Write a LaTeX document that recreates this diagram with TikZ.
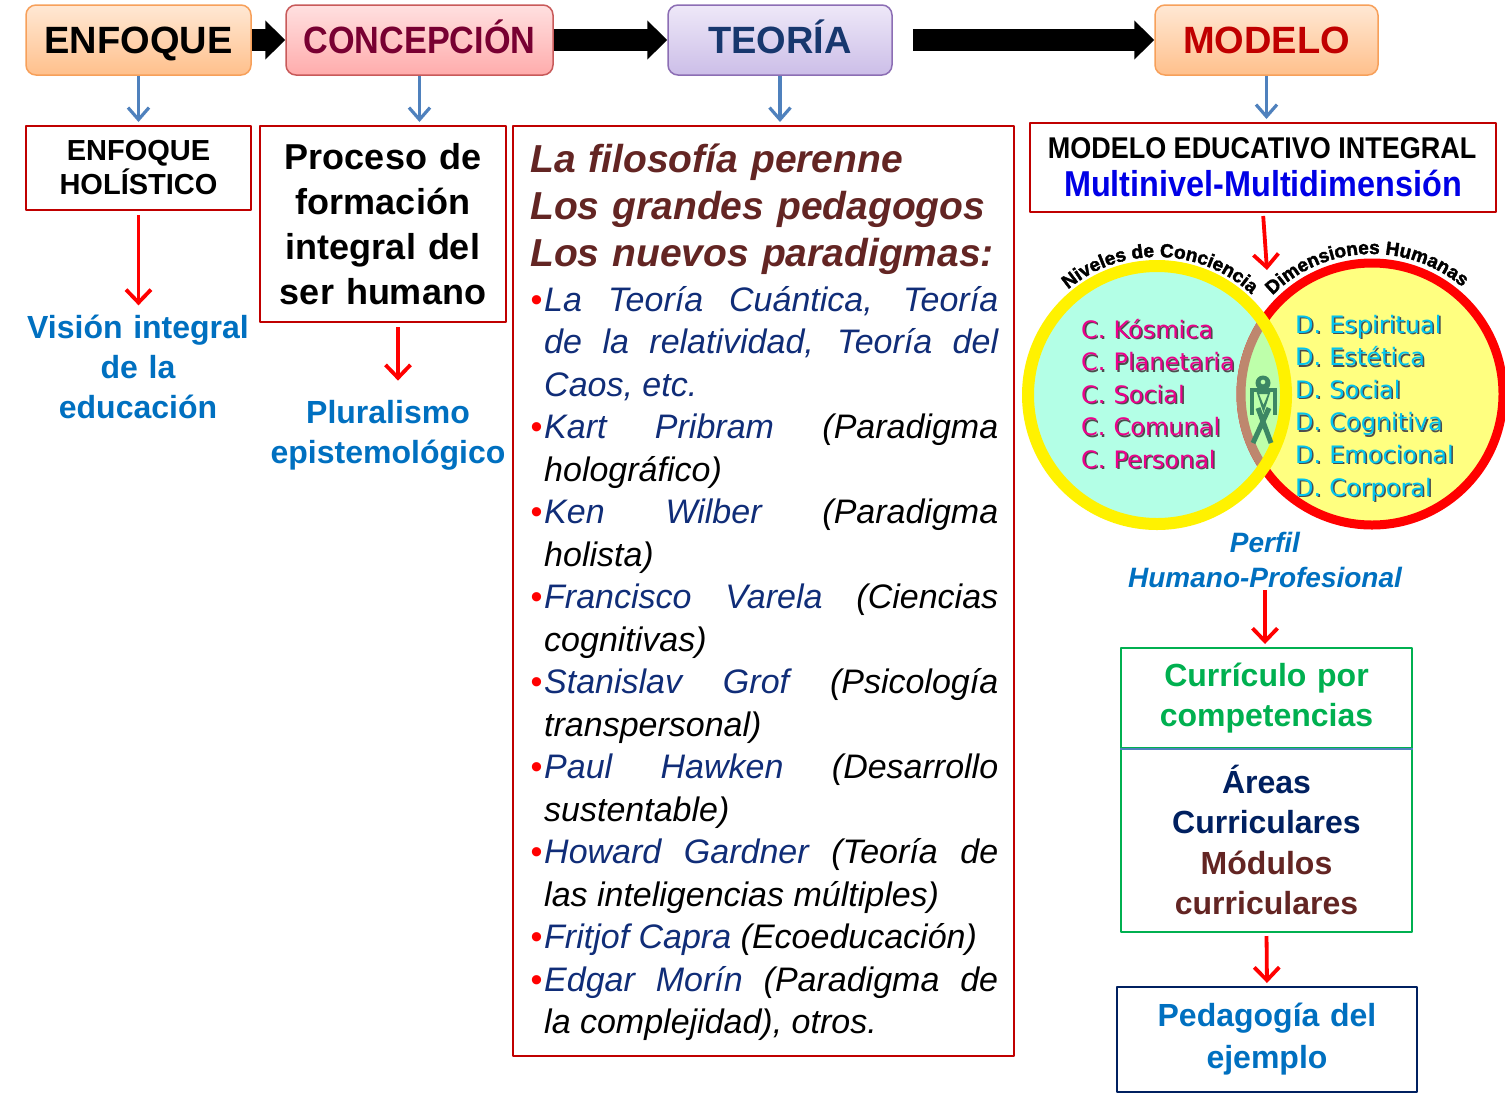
\documentclass[tikz,border=0pt]{standalone}
\usepackage{fontspec}
\setmainfont{Liberation Sans}
\newfontfamily\narrowfont[FakeStretch=0.9]{Liberation Sans}
\newfontfamily\heavyfont[FakeBold=2]{Liberation Sans}
\newfontfamily\comicfont{DejaVu Sans}
\usetikzlibrary{arrows.meta,decorations.text,positioning}

\definecolor{boxred}{RGB}{192,0,0}
\definecolor{arrowblue}{RGB}{79,129,189}
\definecolor{enfoquetop}{RGB}{255,232,212}
\definecolor{enfoquebot}{RGB}{255,192,140}
\definecolor{enfoqueedge}{RGB}{247,160,90}
\definecolor{conctop}{RGB}{255,224,224}
\definecolor{concbot}{RGB}{255,172,172}
\definecolor{concedge}{RGB}{200,90,90}
\definecolor{teotop}{RGB}{238,232,248}
\definecolor{teobot}{RGB}{204,190,232}
\definecolor{teoedge}{RGB}{140,110,180}
\definecolor{conctext}{RGB}{120,0,50}
\definecolor{teotext}{RGB}{23,55,110}
\definecolor{brownink}{RGB}{99,37,35}
\definecolor{nameblue}{RGB}{16,45,120}
\definecolor{visionblue}{RGB}{0,112,192}
\definecolor{multiblue}{RGB}{0,0,230}
\definecolor{curgreen}{RGB}{0,176,80}
\definecolor{navyink}{RGB}{0,32,96}
\definecolor{aquafill}{RGB}{179,255,230}
\definecolor{softyellow}{RGB}{255,255,128}
\definecolor{overlapgreen}{RGB}{190,255,170}
\definecolor{ringtan}{RGB}{190,135,110}
\definecolor{figgreen}{RGB}{60,135,100}
\definecolor{cyanink}{RGB}{0,196,240}

\newcommand{\autor}[1]{\textcolor{nameblue}{#1}}
\newcommand{\punto}{\leavevmode\llap{\textcolor{red}{\textbullet}\hspace{2pt}}}
\newcommand{\sombra}[1]{\leavevmode\rlap{\hspace{1.5pt}\raisebox{-1.5pt}{\textcolor{black!70}{#1}}}#1}

\tikzset{
  topbox/.style={draw, line width=1.5pt, rounded corners=10pt, inner sep=0pt,
    minimum height=70pt, text height=27pt, text depth=0pt,
    font=\bfseries\fontsize{38}{38}\selectfont},
  redbox/.style={draw=boxred, line width=2pt, inner sep=0pt},
  bluearrow/.style={draw=arrowblue, line width=3.2pt,
    -{Straight Barb[length=12pt,width=21pt]}},
  redarrow/.style={draw=red, line width=3.8pt,
    -{Straight Barb[length=13pt,width=25pt]}},
  bigarrow/.style={line width=22pt, -{Triangle[length=20pt,width=38pt]}},
  venntext/.style={anchor=base west, inner sep=0pt, text width=175pt, align=left,
    font=\comicfont\fontsize{24}{32.6}\selectfont},
  arclabel/.style={decorate, decoration={text along path, text align=center,
    text={|\heavyfont\bfseries\fontsize{19}{19}\selectfont|#1}}},
}

\begin{document}
\begin{tikzpicture}[x=1pt, y=-1pt, line join=round, >=Stealth]
	\path[use as bounding box, fill=white] (0,0) rectangle (1505,1112);
	% cabecera
	\node[topbox, draw=enfoqueedge, top color=enfoquetop, bottom color=enfoquebot,
	  minimum width=225pt] (enfoque) at (138.5,40) {ENFOQUE};
	\node[topbox, draw=concedge, top color=conctop, bottom color=concbot,
	  minimum width=267pt, text=conctext,
	  font=\narrowfont\bfseries\fontsize{38}{38}\selectfont] (concepcion) at (419.5,40) {CONCEPCIÓN};
	\node[topbox, draw=teoedge, top color=teotop, bottom color=teobot,
	  minimum width=224pt, text=teotext] (teoria) at (780,40) {TEORÍA};
	\node[topbox, draw=enfoqueedge, top color=enfoquetop, bottom color=enfoquebot,
	  minimum width=223pt, text=boxred] (modelo) at (1266.5,40) {MODELO};
	\draw[bigarrow] (enfoque) -- (concepcion);
	\draw[bigarrow] (concepcion) -- (teoria);
	\draw[bigarrow] ([xshift=20pt]teoria.east) -- (modelo);

	% cajas
	\node[redbox, minimum width=225pt, minimum height=84pt, text width=220pt, align=center,
	  font=\bfseries\fontsize{29}{34}\selectfont] (holistico) at (138.5,168) {ENFOQUE\\HOLÍSTICO};
	\node[redbox, minimum width=246pt, minimum height=196pt, text width=240pt, align=center,
	  font=\bfseries\fontsize{36}{45}\selectfont] (proceso) at (383,224)
	  {Proceso de\\formación\\integral del\\ser humano};
	\node[redbox, minimum width=501pt, minimum height=930pt] (teoriabox) at (763.5,591) {};
	\node[redbox, minimum width=466pt, minimum height=89pt] (educativo) at (1263,167.5) {};
	\node[anchor=base, inner sep=0pt, font=\narrowfont\bfseries\fontsize{30}{30}\selectfont]
	  (integral) at (1262,158) {MODELO EDUCATIVO INTEGRAL};
	\node[anchor=base, inner sep=0pt, text=multiblue,
	  font=\narrowfont\bfseries\fontsize{36}{36}\selectfont]
	  (multinivel) at (1263,196) {Multinivel-Multidimensión};
	\foreach \a/\b in {enfoque/holistico, concepcion/proceso, teoria/teoriabox, modelo/educativo}
	  \draw[bluearrow, shorten >=3pt] (\a.south) -- (\a.south |- \b.north);

	% resultados
	\node[anchor=base, inner sep=0pt, text width=250pt, align=center, text=visionblue,
	  font=\bfseries\fontsize{32}{40}\selectfont] (vision) at (138,338)
	  {Visión~integral\\de la\\educación};
	\node[anchor=base, inner sep=0pt, text width=250pt, align=center, text=visionblue,
	  font=\bfseries\fontsize{32}{40}\selectfont] (pluralismo) at (388,423)
	  {Pluralismo\\epistemológico};
	\draw[redarrow, shorten <=4pt, shorten >=9pt] (holistico.south) -- (holistico.south |- vision.north);
	\draw[redarrow, shorten <=4pt, shorten >=19pt] ([xshift=15pt]proceso.south)
	  -- ([xshift=15pt]proceso.south |- pluralismo.north);

	% teorias
	\node[anchor=base west, inner sep=0pt, text width=480pt, align=left, text=brownink,
	  font=\bfseries\itshape\fontsize{39}{47}\selectfont] (filosofia) at (530,172)
	  {La filosofía perenne\\Los grandes pedagogos\\Los nuevos paradigmas:};
	\node[anchor=base west, inner sep=0pt, text width=454pt, align=justify,
	  font=\itshape\fontsize{34}{42.5}\selectfont] (paradigmas) at (544,311)
	  {\tolerance=10000 \hbadness=10000 \hyphenpenalty=10000
	  \punto\autor{La Teoría Cuántica, Teoría\linebreak de la relatividad, Teoría del\linebreak Caos, etc.}\par
	  \punto\autor{Kart Pribram} (Paradigma\linebreak holográfico)\par
	  \punto\autor{Ken Wilber} (Paradigma\linebreak holista)\par
	  \punto\autor{Francisco Varela} (Ciencias\linebreak cognitivas)\par
	  \punto\autor{Stanislav Grof} (Psicología\linebreak transpersonal)\par
	  \punto\autor{Paul Hawken} (Desarrollo\linebreak sustentable)\par
	  \punto\autor{Howard Gardner} (Teoría de\linebreak las inteligencias múltiples)\par
	  \punto\autor{Fritjof Capra} (Ecoeducación)\par
	  \punto\autor{Edgar Morín} (Paradigma de\linebreak la complejidad), otros.\par};

	% diagrama de Venn
	\path (1157,395) coordinate (cleft)
	  (1372,394) coordinate (cright)
	  (1267,270) coordinate (venntop);
	\fill[aquafill] (cleft) circle (129);
	\fill[softyellow] (cright) circle (131);
	\draw[red, line width=9pt] (cright) circle (131);
	\begin{scope}
	  \clip (cleft) circle (129);
	  \fill[overlapgreen] (cright) circle (131);
	  \draw[ringtan, line width=9pt] (cright) circle (131);
	\end{scope}
	\draw[yellow, line width=12pt] (cleft) circle (129);
	% figura humana
	\begin{scope}[figgreen]
	  \fill[even odd rule] (1263,383) circle (7.5) (1263,382) circle (2.5);
	  \fill (1250,388) rectangle (1277,392);
	  \fill (1250,388) rectangle (1254,415);
	  \fill (1273,388) rectangle (1277,415);
	  \fill[even odd rule] (1256,390) -- (1271,390) -- (1263.5,413) -- cycle
	    (1259,394) -- (1268,394) -- (1263.5,405) -- cycle;
	  \draw[line width=5pt] (1258,408) -- (1271,443) (1269,408) -- (1253,443);
	\end{scope}
	\path[arclabel={Niveles de Conciencia}]
	  (cleft) ++(-132:138) arc[start angle=-132, end angle=-45, radius=138];
	\path[arclabel={Dimensiones Humanas}]
	  (cright) ++(-137:140) arc[start angle=-137, end angle=-48, radius=140];
	\node[venntext, text=magenta] (conciencia) at (1081,338)
	  {\sombra{C. Kósmica}\\\sombra{C. Planetaria}\\\sombra{C. Social}\\
	   \sombra{C. Comunal}\\\sombra{C. Personal}};
	\node[venntext, text=cyanink] (dimensiones) at (1295,333)
	  {\sombra{D. Espiritual}\\\sombra{D. Estética}\\\sombra{D. Social}\\
	   \sombra{D. Cognitiva}\\\sombra{D. Emocional}\\\sombra{D. Corporal}};
	\draw[redarrow, shorten <=3pt] (educativo.south) -- (venntop);

	% perfil y curriculo
	\node[anchor=base, inner sep=0pt, text width=320pt, align=center, text=visionblue,
	  font=\bfseries\itshape\fontsize{28}{35}\selectfont] (perfil) at (1265,552)
	  {Perfil\\Humano-Profesional};
	\node[draw=curgreen, line width=2pt, inner sep=0pt, minimum width=291pt, minimum height=100pt,
	  text width=285pt, align=center, text=curgreen,
	  font=\bfseries\fontsize{32}{40}\selectfont] (curtop) at (1266.5,698)
	  {Currículo por\\competencias};
	\node[draw=curgreen, line width=2pt, inner sep=0pt, minimum width=291pt, minimum height=184pt,
	  text width=285pt, align=center,
	  font=\bfseries\fontsize{32}{40.5}\selectfont] (curbottom) at (1266.5,840)
	  {\textcolor{navyink}{Áreas}\\\textcolor{navyink}{Curriculares}\\
	   \textcolor{brownink}{Módulos}\\\textcolor{brownink}{curriculares}};
	\draw[arrowblue, line width=2pt] (curtop.south west) -- (curtop.south east);
	\node[draw=navyink, line width=2pt, inner sep=0pt, minimum width=300pt, minimum height=105pt,
	  text width=294pt, align=center, text=visionblue,
	  font=\bfseries\fontsize{32}{42}\selectfont] (pedagogia) at (1267,1039.5)
	  {Pedagogía del\\ejemplo};
	\draw[redarrow, shorten <=3pt, shorten >=3pt] (perfil.south) -- (perfil.south |- curtop.north);
	\draw[redarrow, shorten <=3pt, shorten >=3pt] (curbottom.south) -- (pedagogia.north);
\end{tikzpicture}
\end{document}
